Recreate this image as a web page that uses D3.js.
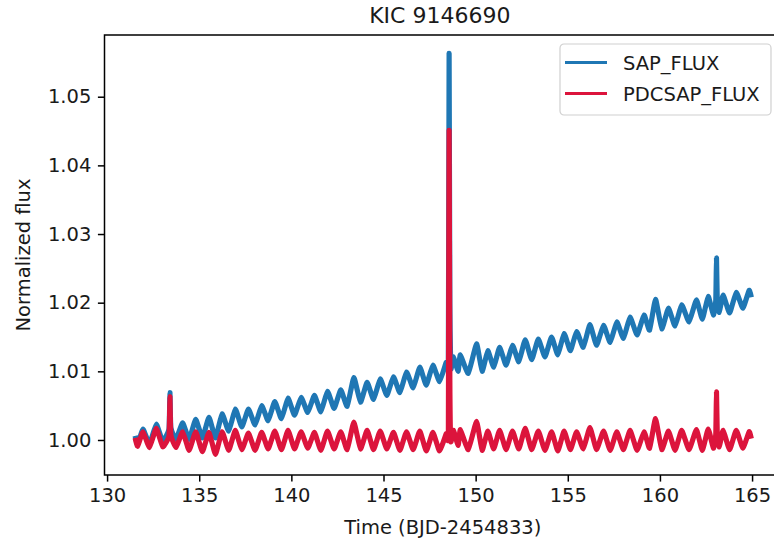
<!DOCTYPE html>
<html>
<head>
<meta charset="utf-8">
<script src="https://cdn.jsdelivr.net/npm/d3@7"></script>
<style>
  body { margin: 0; background: #fff; }
  svg text { font-family: "DejaVu Sans", sans-serif; fill: #1a1a1a; }
</style>
</head>
<body>
<div id="chart"></div>
<script>
/* CONSTANTS */
const width = 774,
  height = 547,
  plot = { left: 104.5, top: 35, right: 781, bottom: 475 };

/* DATA (extrema of the light curve) */
const time = [
  131.52, 131.66, 131.95, 132.30, 132.67, 133.02, 133.36, 133.41, 133.46, 133.74,
  134.10, 134.45, 134.81, 135.17, 135.53, 135.88, 136.24, 136.60, 136.96, 137.31,
  137.67, 138.03, 138.39, 138.74, 139.10, 139.46, 139.82, 140.17, 140.53, 140.89,
  141.25, 141.60, 141.96, 142.32, 142.68, 143.03, 143.39, 143.75, 144.11, 144.46,
  144.82, 145.18, 145.54, 145.89, 146.25, 146.61, 146.97, 147.32, 147.68, 148.04,
  148.40, 148.52, 148.56, 148.60, 148.65, 148.80, 149.05, 149.17, 149.60, 150.05,
  150.35, 150.66, 150.98, 151.30, 151.65, 152.00, 152.34, 152.69, 153.04, 153.40,
  153.76, 154.12, 154.46, 154.80, 155.14, 155.48, 155.84, 156.20, 156.56, 156.94,
  157.30, 157.66, 158.02, 158.38, 158.76, 159.14, 159.44, 159.76, 160.10, 160.46,
  160.82, 161.18, 161.58, 161.98, 162.30, 162.62, 162.90, 163.03, 163.07, 163.11,
  163.22, 163.43, 163.78, 164.14, 164.50, 164.84, 164.96
];

const sapFlux = [
  1.0006, 0.9994, 1.0016, 0.9994, 1.0023, 0.9998, 1.0016, 1.0069, 1.0018, 1.0001,
  1.0025, 1.0001, 1.0030, 1.0003, 1.0033, 1.0003, 1.0038, 1.0013, 1.0045, 1.0019,
  1.0045, 1.0022, 1.0050, 1.0028, 1.0056, 1.0031, 1.0061, 1.0036, 1.0062, 1.0040,
  1.0065, 1.0041, 1.0071, 1.0046, 1.0073, 1.0049, 1.0091, 1.0055, 1.0084, 1.0059,
  1.0089, 1.0065, 1.0092, 1.0069, 1.0099, 1.0076, 1.0106, 1.0080, 1.0109, 1.0085,
  1.0113, 1.0118, 1.0563, 1.0197, 1.0104, 1.0121, 1.0100, 1.0124, 1.0097, 1.0140,
  1.0100, 1.0130, 1.0106, 1.0135, 1.0109, 1.0138, 1.0114, 1.0146, 1.0117, 1.0147,
  1.0121, 1.0150, 1.0124, 1.0155, 1.0130, 1.0158, 1.0135, 1.0168, 1.0138, 1.0167,
  1.0142, 1.0172, 1.0148, 1.0179, 1.0153, 1.0182, 1.0160, 1.0205, 1.0162, 1.0192,
  1.0166, 1.0197, 1.0172, 1.0204, 1.0176, 1.0209, 1.0182, 1.0203, 1.0265, 1.0205,
  1.0186, 1.0211, 1.0185, 1.0215, 1.0192, 1.0218, 1.0208
];

const pdcsapFlux = [
  1.0003, 0.9991, 1.0012, 0.9989, 1.0017, 0.9990, 1.0006, 1.0063, 1.0008, 0.9989,
  1.0012, 0.9985, 1.0012, 0.9983, 1.0011, 0.9979, 1.0012, 0.9985, 1.0014, 0.9986,
  1.0010, 0.9985, 1.0011, 0.9987, 1.0013, 0.9986, 1.0014, 0.9987, 1.0012, 0.9988,
  1.0011, 0.9985, 1.0013, 0.9987, 1.0012, 0.9986, 1.0026, 0.9987, 1.0014, 0.9986,
  1.0013, 0.9987, 1.0011, 0.9985, 1.0012, 0.9986, 1.0013, 0.9984, 1.0011, 0.9984,
  1.0009, 1.0013, 1.0451, 1.0087, 0.9998, 1.0014, 0.9992, 1.0015, 0.9986, 1.0027,
  0.9985, 1.0013, 0.9987, 1.0014, 0.9986, 1.0013, 0.9987, 1.0017, 0.9986, 1.0013,
  0.9985, 1.0012, 0.9984, 1.0013, 0.9986, 1.0012, 0.9987, 1.0018, 0.9986, 1.0013,
  0.9985, 1.0012, 0.9986, 1.0014, 0.9985, 1.0012, 0.9988, 1.0031, 0.9986, 1.0013,
  0.9985, 1.0014, 0.9986, 1.0015, 0.9985, 1.0016, 0.9988, 1.0008, 1.0070, 1.0010,
  0.9990, 1.0014, 0.9986, 1.0014, 0.9988, 1.0012, 1.0002
];

const xTicks = [130, 135, 140, 145, 150, 155, 160, 165];
const yTicks = [1.00, 1.01, 1.02, 1.03, 1.04, 1.05];
const seriesNames = ["SAP_FLUX", "PDCSAP_FLUX"];
const seriesColors = ["#1f77b4", "#dc143c"];

/* SCALES */
const xScale = d3.scaleLinear()
  .domain([129.86, 166.57])
  .range([plot.left, plot.right]);

const yScale = d3.scaleLinear()
  .domain([0.99490, 1.05899])
  .range([plot.bottom, plot.top]);

/* SVG */
const svg = d3.select("#chart")
  .append("svg")
  .attr("width", width)
  .attr("height", height);

svg.append("defs").append("clipPath")
  .attr("id", "plot-clip")
  .append("rect")
  .attr("x", plot.left)
  .attr("y", plot.top)
  .attr("width", plot.right - plot.left)
  .attr("height", plot.bottom - plot.top);

// lines
const rows = time.map((t, i) => ({ t, sap: sapFlux[i], pdc: pdcsapFlux[i] }));
const keys = ["sap", "pdc"];

const lines = svg.append("g").attr("clip-path", "url(#plot-clip)");
keys.forEach((k, i) => {
  const line = d3.line()
    .x(d => xScale(d.t))
    .y(d => yScale(d[k]))
    .curve(d3.curveCardinal.tension(0.6));
  lines.append("path")
    .datum(rows)
    .attr("fill", "none")
    .attr("stroke", seriesColors[i])
    .attr("stroke-width", 5.2)
    .attr("stroke-linejoin", "round")
    .attr("d", line);
});

// axes
const xAxis = d3.axisBottom(xScale)
  .tickValues(xTicks)
  .tickFormat(d3.format("d"))
  .tickSize(6.6)
  .tickPadding(6.6);

const yAxis = d3.axisLeft(yScale)
  .tickValues(yTicks)
  .tickFormat(d3.format(".2f"))
  .tickSize(6.6)
  .tickPadding(6.6);

const gx = svg.append("g")
  .attr("transform", `translate(0, ${plot.bottom})`)
  .call(xAxis);
const gy = svg.append("g")
  .attr("transform", `translate(${plot.left}, 0)`)
  .call(yAxis);

[gx, gy].forEach(g => {
  g.select(".domain").remove();
  g.selectAll(".tick line").attr("stroke", "#000").attr("stroke-width", 1.5);
  g.selectAll(".tick text")
    .attr("font-size", 19.5)
    .attr("font-family", "DejaVu Sans, sans-serif")
    .attr("fill", "#1a1a1a");
});

// spines
svg.append("rect")
  .attr("x", plot.left)
  .attr("y", plot.top)
  .attr("width", plot.right - plot.left)
  .attr("height", plot.bottom - plot.top)
  .attr("fill", "none")
  .attr("stroke", "#000")
  .attr("stroke-width", 1.5);

// titles
svg.append("text")
  .attr("x", (plot.left + plot.right) / 2 - 3)
  .attr("y", 23)
  .attr("text-anchor", "middle")
  .attr("font-size", 22)
  .text("KIC 9146690");

svg.append("text")
  .attr("x", (plot.left + plot.right) / 2)
  .attr("y", 534)
  .attr("text-anchor", "middle")
  .attr("font-size", 19.5)
  .text("Time (BJD-2454833)");

svg.append("text")
  .attr("transform", `translate(30, ${(plot.top + plot.bottom) / 2}) rotate(-90)`)
  .attr("text-anchor", "middle")
  .attr("font-size", 19.5)
  .text("Normalized flux");

// legend
const legend = svg.append("g").attr("transform", "translate(560, 44)");
legend.append("rect")
  .attr("width", 211)
  .attr("height", 71)
  .attr("rx", 4)
  .attr("fill", "#fff")
  .attr("fill-opacity", 0.8)
  .attr("stroke", "#d0d0d0")
  .attr("stroke-width", 1.2);

seriesNames.forEach((name, i) => {
  const y = 18.5 + i * 31;
  legend.append("line")
    .attr("x1", 5).attr("x2", 47)
    .attr("y1", y).attr("y2", y)
    .attr("stroke", seriesColors[i])
    .attr("stroke-width", 3);
  legend.append("text")
    .attr("x", 63)
    .attr("y", y)
    .attr("dy", "0.36em")
    .attr("font-size", 19.5)
    .text(name);
});
</script>
</body>
</html>
